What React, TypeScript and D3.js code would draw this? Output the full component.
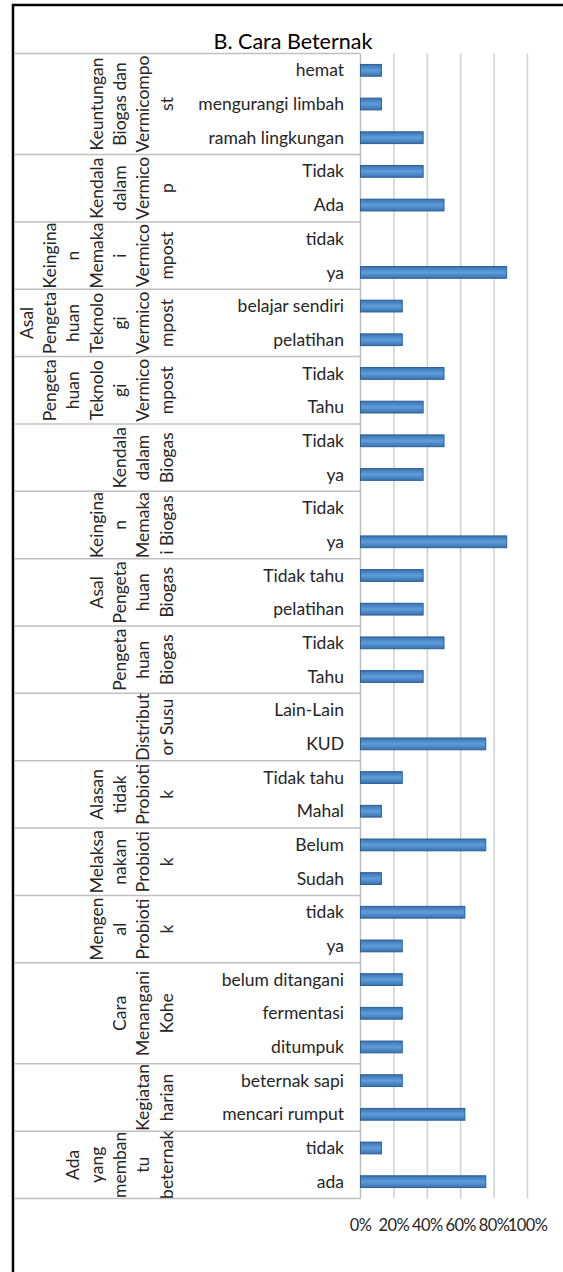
import * as d3 from 'd3';
import { useEffect, useRef } from 'react';

// rows top to bottom
const categories = [
  'hemat', 'mengurangi limbah', 'ramah lingkungan',
  'Tidak', 'Ada',
  'tidak', 'ya',
  'belajar sendiri', 'pelatihan',
  'Tidak', 'Tahu',
  'Tidak', 'ya',
  'Tidak', 'ya',
  'Tidak tahu', 'pelatihan',
  'Tidak', 'Tahu',
  'Lain-Lain', 'KUD',
  'Tidak tahu', 'Mahal',
  'Belum', 'Sudah',
  'tidak', 'ya',
  'belum ditangani', 'fermentasi', 'ditumpuk',
  'beternak sapi', 'mencari rumput',
  'tidak', 'ada',
];

const values = [
  0.125, 0.125, 0.375,
  0.375, 0.5,
  0, 0.875,
  0.25, 0.25,
  0.5, 0.375,
  0.5, 0.375,
  0, 0.875,
  0.375, 0.375,
  0.5, 0.375,
  0, 0.75,
  0.25, 0.125,
  0.75, 0.125,
  0.625, 0.25,
  0.25, 0.25, 0.25,
  0.25, 0.625,
  0.125, 0.75,
];

// group labels as wrapped in the original
const groupLines = [
  ['Keuntungan', 'Biogas dan', 'Vermicompo', 'st'],
  ['Kendala', 'dalam', 'Vermico', 'p'],
  ['Keingina', 'n', 'Memaka', 'i', 'Vermico', 'mpost'],
  ['Asal', 'Pengeta', 'huan', 'Teknolo', 'gi', 'Vermico', 'mpost'],
  ['Pengeta', 'huan', 'Teknolo', 'gi', 'Vermico', 'mpost'],
  ['Kendala', 'dalam', 'Biogas'],
  ['Keingina', 'n', 'Memaka', 'i Biogas'],
  ['Asal', 'Pengeta', 'huan', 'Biogas'],
  ['Pengeta', 'huan', 'Biogas'],
  ['Distribut', 'or Susu'],
  ['Alasan', 'tidak', 'Probioti', 'k'],
  ['Melaksa', 'nakan', 'Probioti', 'k'],
  ['Mengen', 'al', 'Probioti', 'k'],
  ['Cara', 'Menangani', 'Kohe'],
  ['Kegiatan', 'harian'],
  ['Ada', 'yang', 'memban', 'tu', 'beternak'],
];
const groupSizes = [3, 2, 2, 2, 2, 2, 2, 2, 2, 2, 2, 2, 2, 3, 2, 2];

const tickValues = [0, 0.2, 0.4, 0.6, 0.8, 1];

const FONT = 'Lato, "Open Sans", sans-serif';

const App = () => {
  const ref = useRef<SVGSVGElement>(null);

  useEffect(() => {
    const svg = d3.select(ref.current);
    svg.selectAll('*').remove();

    const top = 53.5;
    const bottom = 1198.5;
    const x0 = 360.5;
    const x1 = 527.5;
    const tableLeft = 14;

    const x = d3.scaleLinear().domain([0, 1]).range([x0, x1]);
    const y = d3.scaleBand<number>()
      .domain(d3.range(categories.length))
      .range([top, bottom])
      .paddingInner(0.65)
      .paddingOuter(0.325);
    const step = y.step();

    const defs = svg.append('defs');
    const grad = defs.append('linearGradient')
      .attr('id', 'barGrad').attr('x1', 0).attr('y1', 0).attr('x2', 0).attr('y2', 1);
    grad.append('stop').attr('offset', '0%').attr('stop-color', '#3a72b0');
    grad.append('stop').attr('offset', '50%').attr('stop-color', '#5f9ddb');
    grad.append('stop').attr('offset', '100%').attr('stop-color', '#3a72b0');

    // chart border
    svg.append('rect')
      .attr('x', 13).attr('y', 5).attr('width', 620).attr('height', 1320)
      .attr('fill', '#fff').attr('stroke', '#000').attr('stroke-width', 2.5);

    svg.append('text')
      .attr('x', 293).attr('y', 48.5)
      .attr('text-anchor', 'middle')
      .attr('font-family', FONT).attr('font-size', 21.5)
      .attr('fill', '#000')
      .text('B. Cara Beternak');

    // gridlines
    svg.append('g').selectAll('line')
      .data(tickValues.slice(1))
      .enter().append('line')
      .attr('x1', d => x(d)).attr('x2', d => x(d))
      .attr('y1', top).attr('y2', bottom)
      .attr('stroke', '#d0d0d0').attr('stroke-width', 1.5);

    // table lines for groups
    const bounds = [0, ...d3.cumsum(groupSizes)];
    svg.append('g').selectAll('line')
      .data(bounds)
      .enter().append('line')
      .attr('x1', tableLeft).attr('x2', x0)
      .attr('y1', d => top + d * step).attr('y2', d => top + d * step)
      .attr('stroke', '#bfbfbf').attr('stroke-width', 1.5);
    svg.append('line')
      .attr('x1', x0).attr('x2', x0).attr('y1', top).attr('y2', bottom)
      .attr('stroke', '#bfbfbf').attr('stroke-width', 1.5);

    // bars
    const rows = values.map((v, i) => ({ v, i })).filter(d => d.v > 0);
    svg.append('g').selectAll('rect')
      .data(rows)
      .enter().append('rect')
      .attr('x', x0)
      .attr('y', d => y(d.i)!)
      .attr('width', d => x(d.v) - x0)
      .attr('height', y.bandwidth())
      .attr('fill', 'url(#barGrad)')
      .attr('stroke', '#2c5f95').attr('stroke-width', 1);

    // category labels
    svg.append('g').selectAll('text')
      .data(categories)
      .enter().append('text')
      .attr('x', 344)
      .attr('y', (_, i) => y(i)! + y.bandwidth() / 2)
      .attr('dy', '0.35em')
      .attr('text-anchor', 'end')
      .attr('font-family', FONT).attr('font-size', 17.5)
      .attr('fill', '#262626')
      .text(d => d);

    // group labels (rotated)
    const lastX = 166.5;
    const lineGap = 23.3;
    groupLines.forEach((lines, gi) => {
      const cy = top + (bounds[gi] + groupSizes[gi] / 2) * step;
      lines.forEach((line, li) => {
        const cx = lastX - (lines.length - 1 - li) * lineGap;
        svg.append('text')
          .attr('transform', `translate(${cx},${cy}) rotate(-90)`)
          .attr('text-anchor', 'middle')
          .attr('dy', '0.35em')
          .attr('font-family', FONT).attr('font-size', 17.5)
          .attr('fill', '#262626')
          .text(line);
      });
    });

    // axis tick labels (tight, as in the original)
    svg.append('g').selectAll('text')
      .data(tickValues)
      .enter().append('text')
      .attr('x', d => x(d))
      .attr('y', 1231)
      .attr('text-anchor', 'middle')
      .attr('font-family', FONT).attr('font-size', 16.5)
      .attr('letter-spacing', -0.6)
      .attr('fill', '#262626')
      .text(d => d3.format('.0%')(d));
  }, []);

  return (
    <svg
      ref={ref}
      width={563}
      height={1272}
      style={{ position: 'absolute', left: 0, top: 0, display: 'block' }}
    />
  );
};

export default App;
